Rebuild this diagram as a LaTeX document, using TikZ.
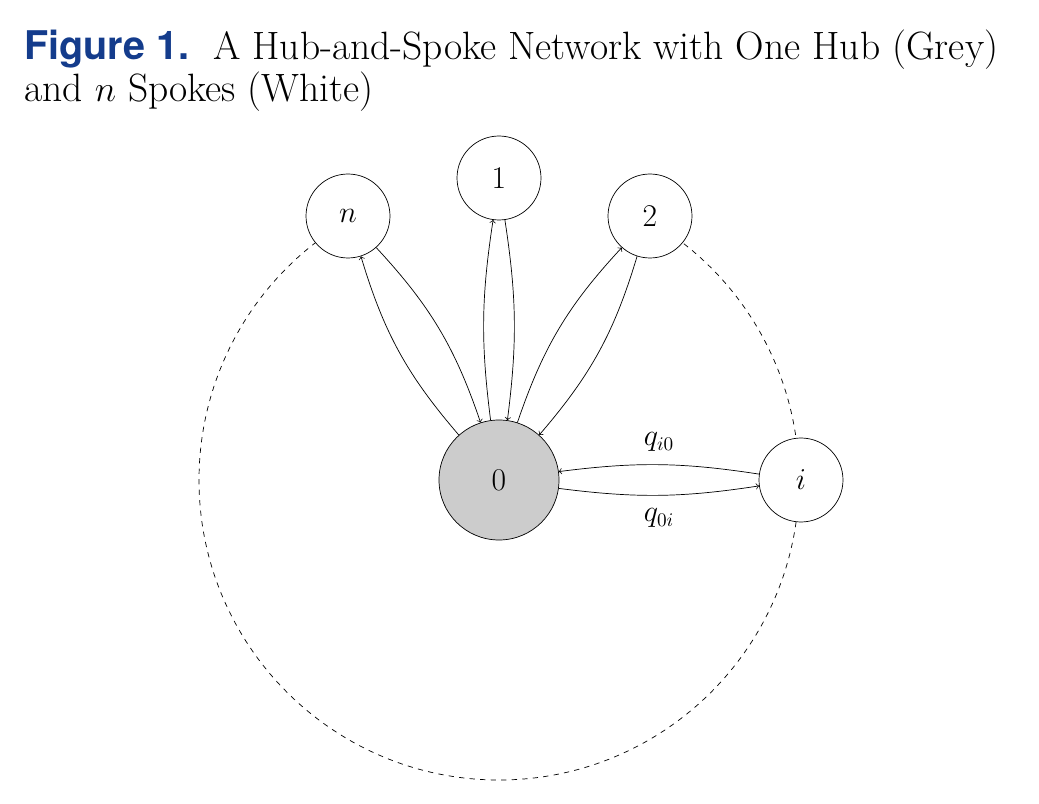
\documentclass[tikz,border=0pt]{standalone}
\usepackage{fontspec}
\newfontfamily\hsans{TeX Gyre Heros}
\begin{document}
\begin{tikzpicture}[x=0.02cm,y=-0.02cm,
  spoke/.style={circle,draw,fill=white,minimum size=84*0.02cm,inner sep=0pt,font=\fontsize{18}{20}\selectfont},
  hub/.style={circle,draw,fill=black!20,minimum size=120*0.02cm,inner sep=0pt,font=\fontsize{18}{20}\selectfont},
  arr/.style={->,>=to,thin},
  lbl/.style={font=\fontsize{16}{18}\selectfont}]
\useasboundingbox (0,0) rectangle (1039,804);
\node[anchor=north west,align=left,inner sep=0pt,font=\fontsize{22.5}{23.5}\selectfont] (title) at (24,30)
  {{\hsans\bfseries\color[RGB]{20,60,140}Figure 1.}\ \ A Hub-and-Spoke Network with One Hub (Grey)\\and $n$ Spokes (White)};
\draw[dashed,thin] (499,480) ++(-60:300) arc[start angle=-60,end angle=0,radius=300];
\draw[dashed,thin] (499,480) ++(0:300) arc[start angle=0,end angle=240,radius=300];
\node[hub] (h) at (499,480) {0};
\node[spoke] (n) at (348,216) {$n$};
\node[spoke] (s1) at (499,178) {1};
\node[spoke] (s2) at (650,216) {2};
\node[spoke] (i) at (801,480) {$i$};
\draw[arr] (h) to[bend left=12] (n);
\draw[arr] (n) to[bend left=12] (h);
\draw[arr] (h) to[bend left=8] (s1);
\draw[arr] (s1) to[bend left=8] (h);
\draw[arr] (h) to[bend left=12] (s2);
\draw[arr] (s2) to[bend left=12] (h);
\draw[arr] (i) to[bend right=8] node[lbl,above=4pt] (l1) {$q_{i0}$} (h);
\draw[arr] (h) to[bend right=8] node[lbl,below=4pt] (l2) {$q_{0i}$} (i);
\end{tikzpicture}
\end{document}
